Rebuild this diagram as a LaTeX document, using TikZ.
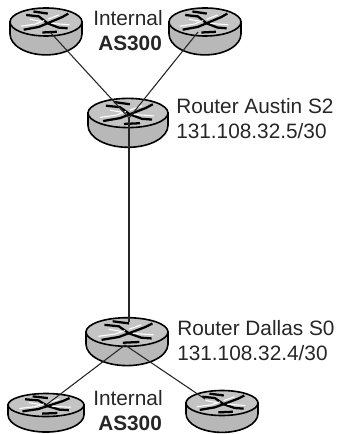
\documentclass[tikz,border=0pt]{standalone}
\usepackage{fontspec}
\setmainfont{Liberation Sans}
\definecolor{routergray}{HTML}{B8B8B8}
\definecolor{routerlight}{HTML}{C4C4C4}
\tikzset{
  rbody/.style={draw=black,line width=1.2pt,fill=routergray},
  rtop/.style={draw=black,line width=1.2pt,fill=routerlight},
  link/.style={draw=black!85,line width=0.8pt},
  lbl/.style={font=\fontsize{15.6}{18}\selectfont,text=black!85,inner sep=0pt,align=left},
  glyphb/.style={draw=black,line width=1.7pt},
  glyphw/.style={draw=white,line width=0.8pt},
  anchorpt/.style={inner sep=0pt,minimum size=0pt}
}
\newcommand{\rtr}[5]{% name, cx, cy (ellipse centre), rx, ry
  \begin{scope}[shift={(#2,#3)}]
    \path[rbody] (-#4,0) -- (-#4,#5*0.85) arc[start angle=180,end angle=0,x radius=#4,y radius=#5*1.5] -- (#4,0) -- cycle;
    \path[rtop] (0,0) ellipse[x radius=#4,y radius=#5];
    % black arrow bands
    \draw[glyphb] (-#4*0.62,#5*0.55) -- (-#4*0.2,#5*0.35) -- (#4*0.08,#5*0.05) -- (#4*0.45,-#5*0.35) -- (#4*0.62,-#5*0.6);
    \draw[glyphb] (-#4*0.55,-#5*0.5) -- (-#4*0.2,-#5*0.4) -- (#4*0.05,#5*0.1) -- (#4*0.35,#5*0.4) -- (#4*0.6,#5*0.45);
    \draw[glyphb] (-#4*0.35,-#5*0.75) -- (#4*0.05,-#5*0.6);
    \draw[glyphb] (-#4*0.1,#5*0.75) -- (#4*0.3,#5*0.7);
    % white highlights
    \draw[glyphw] (-#4*0.7,#5*0.3) -- (-#4*0.3,#5*0.15) -- (-#4*0.05,-#5*0.1);
    \draw[glyphw] (#4*0.05,-#5*0.2) -- (#4*0.35,-#5*0.5);
    \draw[glyphw] (-#4*0.45,-#5*0.2) -- (-#4*0.15,-#5*0.05);
    \draw[glyphw] (#4*0.15,#5*0.1) -- (#4*0.65,#5*0.2);
  \end{scope}
  \node[anchorpt] (#1) at (#2,#3) {};
}
\begin{document}
\begin{tikzpicture}[x=0.75pt,y=-0.75pt]
\useasboundingbox[fill=white] (0,0) rectangle (340,434);
\rtr{tl}{46}{22}{36}{14}
\rtr{tr}{205}{22}{36}{14}
\rtr{austin}{128}{113}{40}{14.6}
\rtr{dallas}{127}{332}{41}{14.3}
\rtr{bl}{46}{405}{38}{11.5}
\rtr{br}{222}{403}{36}{12.5}
\coordinate (tlhub) at (50,32);
\coordinate (trhub) at (198,32);
\coordinate (ahub) at (129,118);
\coordinate (dhubtop) at (129,322);
\coordinate (dhub) at (125,345);
\coordinate (blhub) at (46,405);
\coordinate (brhub) at (205,399);
\draw[link] (tlhub) -- (ahub);
\draw[link] (trhub) -- (ahub);
\draw[link] (ahub) -- (dhubtop);
\draw[link] (dhub) -- (blhub);
\draw[link] (dhub) -- (brhub);
\node[lbl,anchor=west] (l1) at (93,18) {Internal};
\node[lbl,anchor=west] (l2) at (98,43) {\textbf{AS300}};
\node[lbl,anchor=west] (l3) at (176,106) {Router Austin S2};
\node[lbl,anchor=west] (l4) at (176,131) {131.108.32.5/30};
\node[lbl,anchor=west] (l5) at (177,328) {Router Dallas S0};
\node[lbl,anchor=west] (l6) at (177,353) {131.108.32.4/30};
\node[lbl,anchor=west] (l7) at (93,398) {Internal};
\node[lbl,anchor=west] (l8) at (98,423) {\textbf{AS300}};
\end{tikzpicture}
\end{document}
